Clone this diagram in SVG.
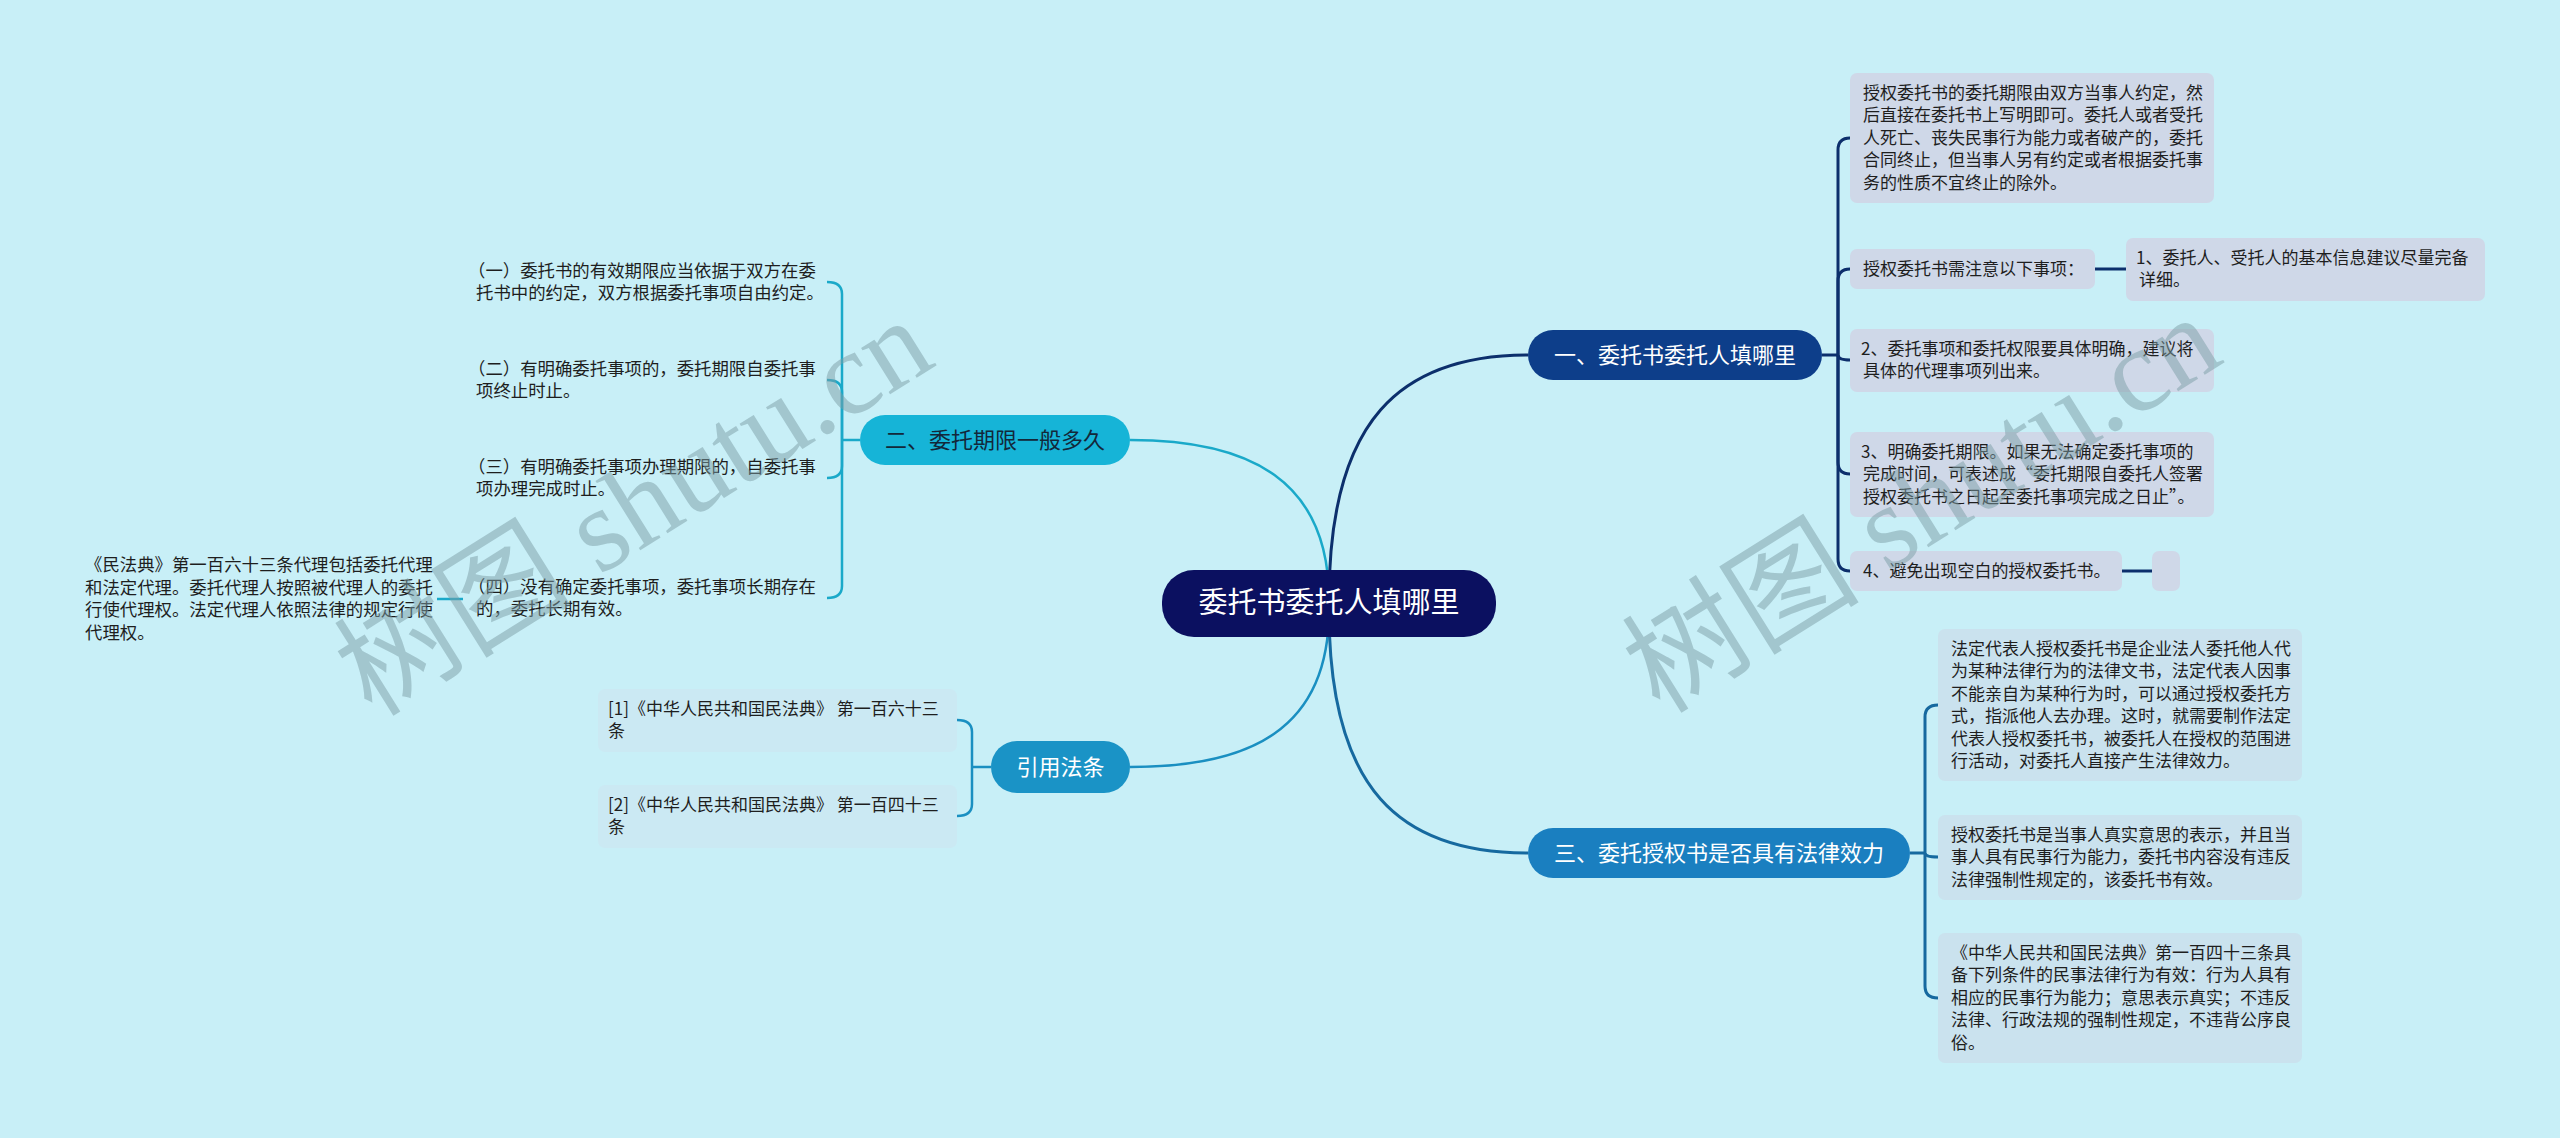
<svg xmlns="http://www.w3.org/2000/svg" width="2560" height="1138" viewBox="0 0 2560 1138">
<style>
.bg{fill:#c8eff7}
.leaf{font-family:"Noto Sans CJK SC","Noto Sans",sans-serif;font-size:17px;fill:#1e1e1e}
.leafl{font-size:17.4px}
.lbox1{fill:#cfd8e8}
.lbox3{fill:#cae2ee}
.lboxr{fill:#cbe9f3}
.ntext{font-family:"Noto Sans CJK SC","Noto Sans",sans-serif;font-size:22px;text-anchor:middle}
.ctext{font-family:"Noto Sans CJK SC","Noto Sans",sans-serif;font-size:29px;text-anchor:middle;fill:#ffffff}
.c1{fill:none;stroke:#0c2f6c;stroke-width:3}
.c2{fill:none;stroke:#1aa9c9;stroke-width:2.5}
.c4{fill:none;stroke:#1a8fc1;stroke-width:2.5}
.c3{fill:none;stroke:#16699f;stroke-width:3}
.wm{font-family:"Liberation Serif","Noto Sans CJK SC",serif;font-size:119px;fill:#7c9ea6;fill-opacity:0.5}
</style>
<rect class="bg" x="0" y="0" width="2560" height="1138"/>

<g id="connectors">
  <path class="c1" d="M1329 600 C1329 420 1400 355 1528 355"/>
  <path class="c2" d="M1329 600 C1329 480 1250 440 1130 440"/>
  <path class="c4" d="M1329 610 C1329 730 1250 767 1130 767"/>
  <path class="c3" d="M1329 610 C1329 790 1400 853 1528 853"/>
  <path class="c1" d="M1822 355 H1838"/>
  <path class="c1" d="M1838 355 V150 Q1838 138 1850 138"/>
  <path class="c1" d="M1838 355 V281 Q1838 269 1850 269"/>
  <path class="c1" d="M1838 355 Q1838 360 1850 360"/>
  <path class="c1" d="M1838 355 V462 Q1838 474 1850 474"/>
  <path class="c1" d="M1838 355 V559 Q1838 571 1850 571"/>
  <path class="c1" d="M2095 269 H2126"/>
  <path class="c1" d="M2122 571 H2152"/>
  <path class="c3" d="M1910 853 H1925"/>
  <path class="c3" d="M1925 853 V717 Q1925 705 1938 705"/>
  <path class="c3" d="M1925 853 Q1925 857 1938 857"/>
  <path class="c3" d="M1925 853 V986 Q1925 998 1938 998"/>
  <path class="c2" d="M860 440 H842"/>
  <path class="c2" d="M842 440 V294 Q842 282 827 282"/>
  <path class="c2" d="M842 440 V392 Q842 380 827 380"/>
  <path class="c2" d="M842 440 V466 Q842 478 827 478"/>
  <path class="c2" d="M842 440 V586 Q842 598 827 598"/>
  <path class="c2" d="M463 599 H437"/>
  <path class="c4" d="M991 767 H972"/>
  <path class="c4" d="M972 767 V732 Q972 720 957 720"/>
  <path class="c4" d="M972 767 V804 Q972 816 957 816"/>
</g>

<g id="center">
  <rect x="1162" y="570" width="334" height="67" rx="32" fill="#0b1060"/>
  <text class="ctext" x="1329" y="613">委托书委托人填哪里</text>
</g>

<g id="branch1">
  <rect x="1528" y="330" width="294" height="50" rx="25" fill="#0d3e8a"/>
  <text class="ntext" x="1675" y="363" fill="#ffffff">一、委托书委托人填哪里</text>
</g>
<g id="branch2">
  <rect x="860" y="415" width="270" height="50" rx="25" fill="#16b4d7"/>
  <text class="ntext" x="995" y="448" fill="#13283a">二、委托期限一般多久</text>
</g>
<g id="branch4">
  <rect x="991" y="741" width="139" height="52" rx="26" fill="#1a93c6"/>
  <text class="ntext" x="1060.5" y="775" fill="#ffffff">引用法条</text>
</g>
<g id="branch3">
  <rect x="1528" y="828" width="382" height="50" rx="25" fill="#1a7fc0"/>
  <text class="ntext" x="1719" y="861" fill="#ffffff">三、委托授权书是否具有法律效力</text>
</g>

<g id="leafA">
  <rect class="lbox1" x="1850" y="73" width="364" height="130" rx="7"/>
  <text class="leaf"><tspan x="1863" y="99">授权委托书的委托期限由双方当事人约定，然</tspan><tspan x="1863" y="121.4">后直接在委托书上写明即可。委托人或者受托</tspan><tspan x="1863" y="143.8">人死亡、丧失民事行为能力或者破产的，委托</tspan><tspan x="1863" y="166.2">合同终止，但当事人另有约定或者根据委托事</tspan><tspan x="1863" y="188.6">务的性质不宜终止的除外。</tspan></text>
</g>
<g id="leafB">
  <rect class="lbox1" x="1850" y="249" width="245" height="40" rx="7"/>
  <text class="leaf" x="1863" y="275">授权委托书需注意以下事项：</text>
</g>
<g id="leafB1">
  <rect class="lbox1" x="2126" y="238" width="359" height="63" rx="7"/>
  <text class="leaf"><tspan x="2136" y="264"> 1、委托人、受托人的基本信息建议尽量完备</tspan><tspan x="2139" y="286.4">详细。</tspan></text>
</g>
<g id="leafC">
  <rect class="lbox1" x="1850" y="329" width="364" height="63" rx="7"/>
  <text class="leaf"><tspan x="1861" y="355"> 2、委托事项和委托权限要具体明确，建议将</tspan><tspan x="1863" y="377.4">具体的代理事项列出来。</tspan></text>
</g>
<g id="leafD">
  <rect class="lbox1" x="1850" y="432" width="364" height="85" rx="7"/>
  <text class="leaf"><tspan x="1861" y="458"> 3、明确委托期限。如果无法确定委托事项的</tspan><tspan x="1863" y="480.4">完成时间，可表述成“委托期限自委托人签署</tspan><tspan x="1863" y="502.8">授权委托书之日起至委托事项完成之日止”。</tspan></text>
</g>
<g id="leafE">
  <rect class="lbox1" x="1850" y="551" width="272" height="40" rx="7"/>
  <text class="leaf" x="1863" y="577">4、避免出现空白的授权委托书。</text>
</g>
<g id="leafE1">
  <rect class="lbox1" x="2152" y="551" width="28" height="40" rx="7"/>
</g>

<g id="leafF">
  <rect class="lbox3" x="1938" y="629" width="364" height="152" rx="7"/>
  <text class="leaf"><tspan x="1951" y="655">法定代表人授权委托书是企业法人委托他人代</tspan><tspan x="1951" y="677.4">为某种法律行为的法律文书，法定代表人因事</tspan><tspan x="1951" y="699.8">不能亲自为某种行为时，可以通过授权委托方</tspan><tspan x="1951" y="722.2">式，指派他人去办理。这时，就需要制作法定</tspan><tspan x="1951" y="744.6">代表人授权委托书，被委托人在授权的范围进</tspan><tspan x="1951" y="767">行活动，对委托人直接产生法律效力。</tspan></text>
</g>
<g id="leafG">
  <rect class="lbox3" x="1938" y="815" width="364" height="85" rx="7"/>
  <text class="leaf"><tspan x="1951" y="841">授权委托书是当事人真实意思的表示，并且当</tspan><tspan x="1951" y="863.4">事人具有民事行为能力，委托书内容没有违反</tspan><tspan x="1951" y="885.8">法律强制性规定的，该委托书有效。</tspan></text>
</g>
<g id="leafH">
  <rect class="lbox3" x="1938" y="933" width="364" height="130" rx="7"/>
  <text class="leaf"><tspan x="1951" y="959">《中华人民共和国民法典》第一百四十三条具</tspan><tspan x="1951" y="981.4">备下列条件的民事法律行为有效：行为人具有</tspan><tspan x="1951" y="1003.8">相应的民事行为能力；意思表示真实；不违反</tspan><tspan x="1951" y="1026.2">法律、行政法规的强制性规定，不违背公序良</tspan><tspan x="1951" y="1048.6">俗。</tspan></text>
</g>

<g id="leaf2a">
  <text class="leaf leafl"><tspan x="468" y="276.8">（一）委托书的有效期限应当依据于双方在委</tspan><tspan x="476" y="299.2">托书中的约定，双方根据委托事项自由约定。</tspan></text>
</g>
<g id="leaf2b">
  <text class="leaf leafl"><tspan x="468" y="374.8">（二）有明确委托事项的，委托期限自委托事</tspan><tspan x="476" y="397.2">项终止时止。</tspan></text>
</g>
<g id="leaf2c">
  <text class="leaf leafl"><tspan x="468" y="472.8">（三）有明确委托事项办理期限的，自委托事</tspan><tspan x="476" y="495.2">项办理完成时止。</tspan></text>
</g>
<g id="leaf2d">
  <text class="leaf leafl"><tspan x="468" y="592.8">（四）没有确定委托事项，委托事项长期存在</tspan><tspan x="476" y="615.2">的，委托长期有效。</tspan></text>
</g>
<g id="leaf2d1">
  <text class="leaf leafl"><tspan x="85" y="571.4">《民法典》第一百六十三条代理包括委托代理</tspan><tspan x="85" y="593.8">和法定代理。委托代理人按照被代理人的委托</tspan><tspan x="85" y="616.2">行使代理权。法定代理人依照法律的规定行使</tspan><tspan x="85" y="638.6">代理权。</tspan></text>
</g>

<g id="cite1">
  <rect class="lboxr" x="598" y="689" width="359" height="63" rx="7"/>
  <text class="leaf"><tspan x="608" y="714.8">[1]《中华人民共和国民法典》 第一百六十三</tspan><tspan x="608" y="737.2">条</tspan></text>
</g>
<g id="cite2">
  <rect class="lboxr" x="598" y="785" width="359" height="63" rx="7"/>
  <text class="leaf"><tspan x="608" y="810.8">[2]《中华人民共和国民法典》 第一百四十三</tspan><tspan x="608" y="833.2">条</tspan></text>
</g>

<g id="watermarks">
  <text class="wm" transform="translate(372 718) rotate(-32)">树图 shutu.cn</text>
  <text class="wm" transform="translate(1660 715) rotate(-32)">树图 shutu.cn</text>
</g>
</svg>
